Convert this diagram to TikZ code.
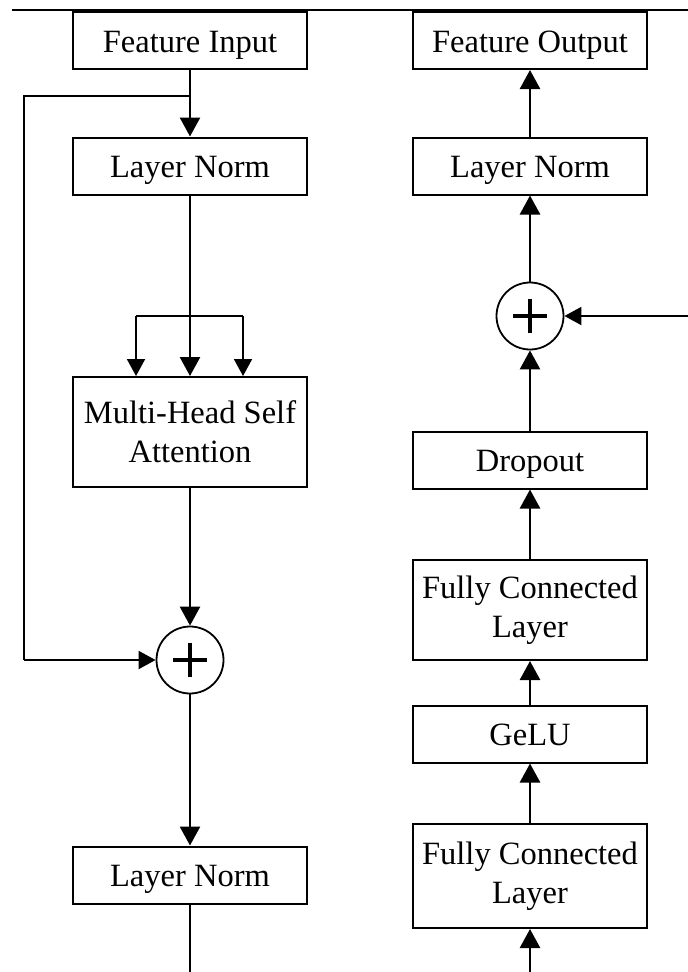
\documentclass[tikz,border=0pt]{standalone}
\usepackage{fontspec}
\setmainfont{Liberation Serif}
\usetikzlibrary{arrows.meta}
\begin{document}
\begin{tikzpicture}[x=1pt,y=-1pt,
  box/.style={draw, line width=2pt, minimum width=234pt, minimum height=57pt,
    inner sep=0pt, align=center, font=\fontsize{32.5}{39}\selectfont},
  onebox/.style={box, text height=23pt, text depth=0pt},
  sumnode/.style={draw, circle, line width=1.8pt, minimum size=67pt, inner sep=0pt,
    path picture={\draw[line width=3.8pt] (path picture bounding box.center) +(-17pt,0) -- +(17pt,0)
      (path picture bounding box.center) +(0,-17pt) -- +(0,17pt);}},
  conn/.style={line width=2.6pt, -{Triangle[length=19pt,width=20pt]}},
  plain/.style={line width=2.6pt},
  thinconn/.style={line width=1.9pt, -{Triangle[length=17pt,width=18pt]}},
  thinline/.style={line width=1.9pt}]
\useasboundingbox (0,0) rectangle (688,972);

% rule above the diagram
\draw[line width=1.6pt] (12,10) -- (688,10);

% attention column
\node[onebox] (fin) at (190,40.5) {Feature Input};
\node[onebox] (ln1) at (190,166) {Layer Norm};
\node[box, minimum height=110pt] (mhsa) at (190,432) {Multi-Head Self\\Attention};
\node[sumnode] (add1) at (190,660) {};
\node[onebox] (ln2) at (190,875) {Layer Norm};
\coordinate (lend) at (190,972);

% residual path
\coordinate (split) at (190,96);
\coordinate (rl1) at (24,96);
\coordinate (rl2) at (24,660);

% q/k/v fan-out
\coordinate (fanl) at (136,316);
\coordinate (fanr) at (243,316);

\draw[plain] (fin) -- (split);
\draw[conn] (split) -- (ln1);
\draw[thinline] (split) -- (rl1) -- (rl2);
\draw[thinconn] (rl2) -- (add1);
\draw[conn] (ln1) -- (mhsa);
\draw[thinline] (fanl) -- (fanr);
\draw[thinconn] (fanl) -- (fanl |- mhsa.north);
\draw[thinconn] (fanr) -- (fanr |- mhsa.north);
\draw[conn] (mhsa) -- (add1);
\draw[conn] (add1) -- (ln2);
\draw[plain] (ln2) -- (lend);

% feed-forward column
\node[onebox] (fout) at (530,40.5) {Feature Output};
\node[onebox] (ln3) at (530,166) {Layer Norm};
\node[sumnode] (add2) at (530,316) {};
\node[onebox] (drop) at (530,460) {Dropout};
\node[box, minimum height=100pt] (fc2) at (530,610) {Fully Connected\\Layer};
\node[onebox] (gelu) at (530,734) {GeLU};
\node[box, minimum height=104pt] (fc1) at (530,876) {Fully Connected\\Layer};
\coordinate (rstart) at (530,972);
\coordinate (skipin) at (688,316);

\draw[conn] (rstart) -- (fc1);
\draw[conn] (fc1) -- (gelu);
\draw[conn] (gelu) -- (fc2);
\draw[conn] (fc2) -- (drop);
\draw[conn] (drop) -- (add2);
\draw[thinconn] (skipin) -- (add2);
\draw[conn] (add2) -- (ln3);
\draw[conn] (ln3) -- (fout);
\end{tikzpicture}
\end{document}
